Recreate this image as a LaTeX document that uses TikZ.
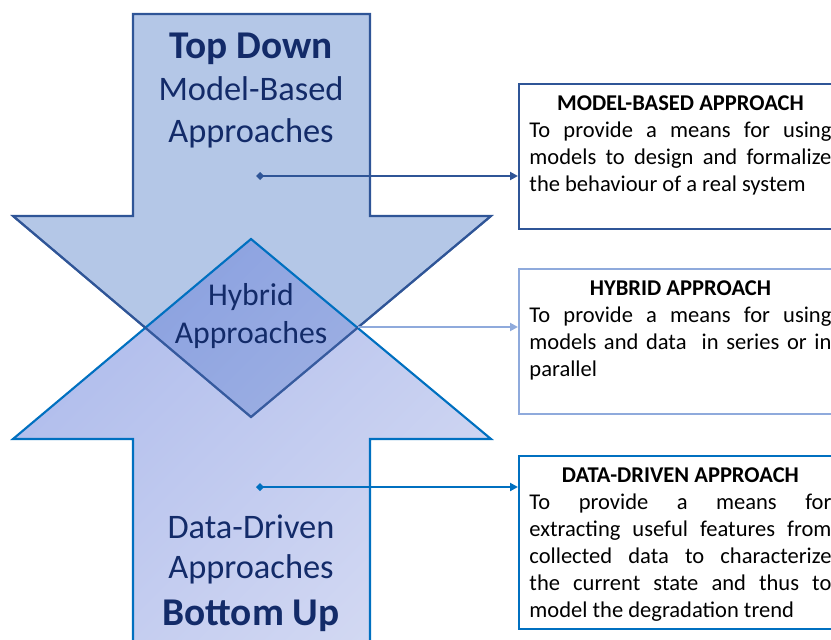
\documentclass[tikz,border=0pt]{standalone}
\usepackage{fontspec}
\setmainfont{Carlito}
\usepackage{tikz}
\usetikzlibrary{arrows.meta}
\hbadness=10000

\definecolor{downfill}{HTML}{B4C7E7}
\definecolor{downline}{HTML}{2F5597}
\definecolor{updark}{HTML}{5F79D9}
\definecolor{uplight}{HTML}{A7B3E7}
\definecolor{upline}{HTML}{0070C0}
\definecolor{hybline}{HTML}{8FAADC}
\definecolor{navy}{HTML}{132B69}

\newcommand{\bw}{226.5pt}
\newcommand{\descbox}[6]{\node[descbox, draw=#2] (#1) at (518,#3) {\parbox[c][#4][t]{\bw}{{\centering\bfseries #5\par}#6}};}

\tikzset{
  descbox/.style={anchor=north west, line width=1.8pt, inner xsep=7.7pt, inner ysep=8.5pt,
    font=\fontsize{16.9}{20.25}\selectfont},
  arrowtext/.style={text=navy, align=center, anchor=base},
  link/.style={line width=1.6pt, -{Triangle[length=6pt,width=6pt]}},
  dotlink/.style={link, {Diamond[length=6pt,width=6pt]}-{Triangle[length=6pt,width=6pt]}},
}

\begin{document}
\begin{tikzpicture}[x=0.75pt, y=-0.75pt]
    \path[use as bounding box, clip] (0,0) rectangle (831,639);

    % down arrow, then the up arrow over it
    \draw[downline, line width=1.6pt, fill=downfill]
      (133,14) -- (370,14) -- (370,216) -- (491,216) -- (251,417) -- (13,216) -- (133,216) -- cycle;
    \draw[upline, line width=1.6pt, top color=updark, bottom color=uplight, shading angle=45, fill opacity=0.5]
      (133,660) -- (133,439) -- (13,439) -- (251,239) -- (491,439) -- (370,439) -- (370,660) -- cycle;
    % head edges of the down arrow show through
    \draw[downline, line width=1.6pt, draw opacity=0.8] (13,216) -- (251,417) -- (491,216);

    % base anchor sits on the last line
    \node[arrowtext, font=\fontsize{25.8}{31.5}\selectfont] (topText) at (251,142)
      {{\bfseries\fontsize{29.5}{31.5}\selectfont Top Down}\\Model-Based\\Approaches};
    \node[arrowtext, font=\fontsize{23.8}{28.5}\selectfont] (hybText) at (251,343)
      {Hybrid\\Approaches};
    \node[arrowtext, font=\fontsize{25.8}{30}\selectfont] (botText) at (251,625)
      {Data-Driven\\Approaches\\[5.25pt]{\bfseries\fontsize{29.5}{31.5}\selectfont Bottom Up}};

    \coordinate (mbDot) at (256,176);
    \coordinate (hybCorner) at (358,327);
    \coordinate (ddDot) at (256,487);

    \descbox{mbBox}{downline}{83}{91.75pt}{MODEL-BASED APPROACH}
      {To provide a means for using\linebreak models to design and formalize\linebreak the behaviour of a real system}
    \descbox{hyBox}{hybline}{268}{91.75pt}{HYBRID APPROACH}
      {To provide a means for using\linebreak models and data\ \ in series or in\linebreak parallel}
    \descbox{ddBox}{upline}{455}{112.75pt}{DATA-DRIVEN APPROACH}
      {To provide a means for\linebreak extracting useful features from\linebreak collected data to characterize\linebreak the current state and thus to\linebreak model the degradation trend}

    \draw[dotlink, downline] (mbDot) -- (mbDot -| mbBox.west);
    \draw[link, hybline] (hybCorner) -- (hybCorner -| hyBox.west);
    \draw[dotlink, upline] (ddDot) -- (ddDot -| ddBox.west);
\end{tikzpicture}
\end{document}
